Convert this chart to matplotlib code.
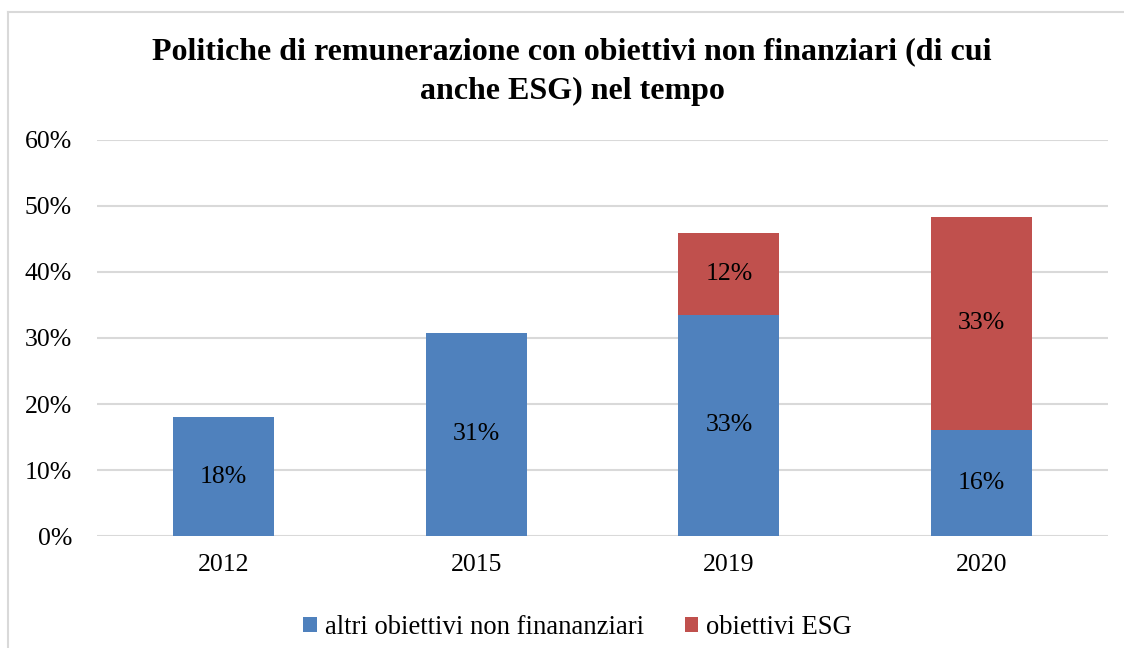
import numpy as np
import matplotlib
matplotlib.use('Agg')
import matplotlib.pyplot as plt
from matplotlib.lines import Line2D
from matplotlib.ticker import PercentFormatter

plt.rcParams['font.family'] = ['Liberation Serif', 'DejaVu Serif']

years = ['2012', '2015', '2019', '2020']
altri = [18.0, 30.8, 33.5, 16.0]
esg = [0.0, 0.0, 12.4, 32.4]
labels_altri = ['18%', '31%', '33%', '16%']
labels_esg = ['', '', '12%', '33%']
series_names = ['altri obiettivi non finananziari', 'obiettivi ESG']

blue = '#4F81BD'
red = '#C0504D'
grid_col = '#D9D9D9'
fs = 18.5

fig = plt.figure(figsize=(11.24, 6.48), dpi=100)
ax = fig.add_axes([0.0863, 0.1728, 0.8995, 0.6112])

x = np.arange(len(years))
b1 = ax.bar(x, altri, width=0.4, color=blue, label=series_names[0], zorder=3)
b2 = ax.bar(x, esg, width=0.4, bottom=altri, color=red, label=series_names[1], zorder=3)

ax.bar_label(b1, labels=labels_altri, label_type='center', fontsize=fs)
ax.bar_label(b2, labels=labels_esg, label_type='center', fontsize=fs)

ax.set_xlim(-0.5, len(years) - 0.5)
ax.set_ylim(0, 60)
ax.set_yticks(np.arange(0, 61, 10))
ax.yaxis.set_major_formatter(PercentFormatter(decimals=0))
ax.set_xticks(x)
ax.set_xticklabels(years)
ax.tick_params(axis='both', length=0, labelsize=fs)
ax.tick_params(axis='y', pad=18)
ax.tick_params(axis='x', pad=13)
ax.yaxis.grid(True, color=grid_col, linewidth=1.5, zorder=0)
for s in ax.spines.values():
    s.set_visible(False)

fig.text(0.509, 0.889,
         'Politiche di remunerazione con obiettivi non finanziari (di cui\nanche ESG) nel tempo',
         ha='center', va='center', fontsize=23, fontweight='bold', linespacing=1.5)

fig.legend(loc='center', bbox_to_anchor=(0.514, 0.032), ncol=2, frameon=False,
           fontsize=19.2, handlelength=0.5, handleheight=0.5, handletextpad=0.3,
           columnspacing=1.55)

# outer frame (only top and left edges visible in the crop)
x0 = 8 / 1124
y0 = 1 - 12 / 648
fig.add_artist(Line2D([x0, 1.0], [y0, y0], transform=fig.transFigure,
                      color=grid_col, linewidth=1.5))
fig.add_artist(Line2D([x0, x0], [0.0, y0], transform=fig.transFigure,
                      color=grid_col, linewidth=1.5))

fig.savefig('out.png', dpi=100)
